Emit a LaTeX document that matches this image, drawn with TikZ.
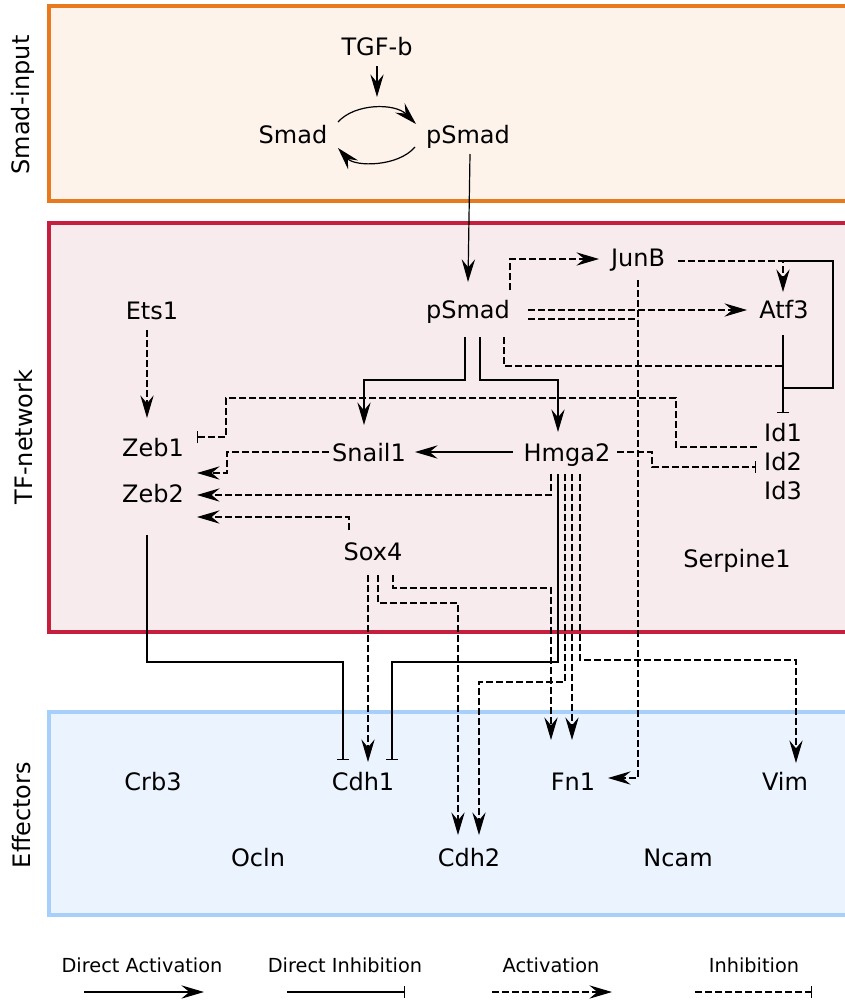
\documentclass[tikz,border=0pt]{standalone}
\usepackage{fontspec}
\setmainfont{DejaVu Sans}
\usetikzlibrary{arrows.meta,calc}
\definecolor{orB}{HTML}{E8791C}
\definecolor{orF}{HTML}{FDF3EA}
\definecolor{rdB}{HTML}{C61F3E}
\definecolor{rdF}{HTML}{F8EBEE}
\definecolor{blB}{HTML}{A6D0FA}
\definecolor{blF}{HTML}{EBF3FE}
\begin{document}
\begin{tikzpicture}[x=0.75pt,y=-0.75pt,
  gene/.style={font=\fontsize{18}{20}\selectfont, inner sep=0pt, text height=13pt, text depth=0pt},
  legtxt/.style={font=\fontsize{14.5}{16}\selectfont, inner sep=0pt, text height=10.5pt, text depth=0pt},
  region/.style={line width=3pt},
  link/.style={line width=0.9pt, black},
  da/.style={link, -{Stealth[length=17pt,width=10pt,inset=6pt]}},
  di/.style={link, -{Bar[width=9pt]}},
  ia/.style={da, dash pattern=on 5pt off 2.5pt},
  ii/.style={di, dash pattern=on 5pt off 2.5pt},
  dl/.style={link, dash pattern=on 5pt off 2.5pt},
]
\useasboundingbox (0,0) rectangle (845,1000);
\fill[white] (0,0) rectangle (845,1000);

% regions
\draw[region, draw=orB, fill=orF] (49,6) rectangle (870,201);
\draw[region, draw=rdB, fill=rdF] (49,223) rectangle (870,632);
\draw[region, draw=blB, fill=blF] (49,712) rectangle (870,915);
\node[gene, rotate=90] (lsmad) at (21,105) {Smad-input};
\node[gene, rotate=90] (ltf) at (24,437) {TF-network};
\node[gene, rotate=90] (leff) at (22,815) {Effectors};

% genes
\node[gene] (tgfb) at (377,47) {TGF-b};
\node[gene] (smad) at (293,135) {Smad};
\node[gene] (psmadA) at (468,135) {pSmad};
\coordinate (phos) at (377,97);
\node[gene] (junb) at (638,258) {JunB};
\node[gene] (psmadB) at (468,310) {pSmad};
\node[gene] (atf3) at (784,310) {Atf3};
\node[gene] (ets1) at (152,311) {Ets1};
\node[gene] (zeb1) at (153,448) {Zeb1};
\node[gene] (snail1) at (369,453) {Snail1};
\node[gene] (hmga2) at (567,453) {Hmga2};
\node[gene] (id1) at (783,433) {Id1};
\node[gene] (id2) at (783,462) {Id2};
\node[gene] (id3) at (783,491) {Id3};
\node[gene] (zeb2) at (153,494) {Zeb2};
\node[gene] (sox4) at (373,552) {Sox4};
\node[gene] (serpine1) at (737,559) {Serpine1};
\node[gene] (crb3) at (153,782) {Crb3};
\node[gene] (cdh1) at (363,782) {Cdh1};
\node[gene] (fn1) at (573,782) {Fn1};
\node[gene] (vim) at (785,782) {Vim};
\node[gene] (ocln) at (258,858) {Ocln};
\node[gene] (cdh2) at (469,858) {Cdh2};
\node[gene] (ncam) at (678,858) {Ncam};

% Smad input
\draw[da] ($(tgfb)+(0,19)$) -- (phos);
\draw[da] ($(smad)+(45,-13)$) .. controls (355,103) and (395,103) .. ($(psmadA)+(-52,-11)$);
\draw[da] ($(psmadA)+(-53,12)$) .. controls (398,167) and (355,167) .. ($(smad)+(45,13)$);
\draw[da] ($(psmadA)+(2,19)$) -- ($(psmadB)+(0,-28)$);

% TF network
\coordinate (jcorner) at (783,261);
\coordinate (merge) at (638,319);
\coordinate (idjoinA) at (783,366);
\coordinate (idjoinB) at (783,388);
\draw[ia] ($(psmadB)+(42,-20)$) |- ($(junb)+(-39,1)$);
\draw[ia] ($(psmadB)+(60,0)$) -- ($(atf3)+(-37,0)$);
\draw[dl] ($(psmadB)+(60,9)$) -- (merge);
\draw[ia] ($(junb)+(0,22)$) |- ($(fn1)+(35,-4)$);
\draw[ia] ($(junb)+(40,3)$) -| ($(atf3)+(-1,-18)$);
\draw[link] (jcorner) -- (833,261) |- (idjoinB);
\draw[di] ($(atf3)+(-1,25)$) -- ($(id1)+(0,-20)$);
\draw[dl] ($(psmadB)+(36,27)$) |- (idjoinA);
\draw[da] ($(psmadB)+(-3,27)$) -- ++(0,43) -| ($(snail1)+(-5,-28)$);
\draw[da] ($(psmadB)+(12,27)$) -- ++(0,43) -| ($(hmga2)+(-9,-21)$);
\draw[ii] ($(id1)+(-26,14)$) -- (676,447) |- (226,398) |- ($(zeb1)+(44,-11)$);
\draw[ii] ($(hmga2)+(50,-1)$) -- (652,452) |- ($(id2)+(-27,5)$);
\draw[da] ($(hmga2)+(-54,-1)$) -- ($(snail1)+(46,-1)$);
\draw[ia] ($(snail1)+(-40,-1)$) -| (227,473) -- ($(zeb2)+(44,-21)$);
\draw[ia] ($(hmga2)+(-16,21)$) |- ($(zeb2)+(44,1)$);
\draw[ia] ($(sox4)+(-24,-22)$) |- ($(zeb2)+(44,23)$);
\draw[ia] ($(ets1)+(-5,19)$) -- ($(zeb1)+(-6,-30)$);

% to effectors
\draw[di] ($(zeb2)+(-6,41)$) |- (343,662) -- ($(cdh1)+(-20,-22)$);
\draw[di] ($(hmga2)+(-9,21)$) |- (392,662) -- ($(cdh1)+(29,-22)$);
\draw[ia] ($(hmga2)+(-2,21)$) |- (479,682) -- ($(cdh2)+(10,-23)$);
\draw[ia] ($(hmga2)+(5,21)$) -- ($(fn1)+(-1,-42)$);
\draw[ia] ($(hmga2)+(13,21)$) |- (796,660) -- ($(vim)+(11,-19)$);
\draw[ia] ($(sox4)+(-5,23)$) -- ($(cdh1)+(5,-20)$);
\draw[ia] ($(sox4)+(5,23)$) |- (458,603) -- ($(cdh2)+(-11,-23)$);
\draw[ia] ($(sox4)+(20,23)$) |- (551,588) -- ($(fn1)+(-22,-42)$);

% legend
\node[legtxt] (lgda) at (142,965) {Direct Activation};
\node[legtxt] (lgdi) at (345,965) {Direct Inhibition};
\node[legtxt] (lgia) at (551,965) {Activation};
\node[legtxt] (lgii) at (754,965) {Inhibition};
\coordinate (a1) at (84,992); \coordinate (a2) at (204,992);
\coordinate (b1) at (287,992); \coordinate (b2) at (405,992);
\coordinate (c1) at (492,992); \coordinate (c2) at (612,992);
\coordinate (d1) at (695,992); \coordinate (d2) at (812,992);
\draw[da] (a1) -- (a2);
\draw[di] (b1) -- (b2);
\draw[ia] (c1) -- (c2);
\draw[ii] (d1) -- (d2);
\end{tikzpicture}
\end{document}
